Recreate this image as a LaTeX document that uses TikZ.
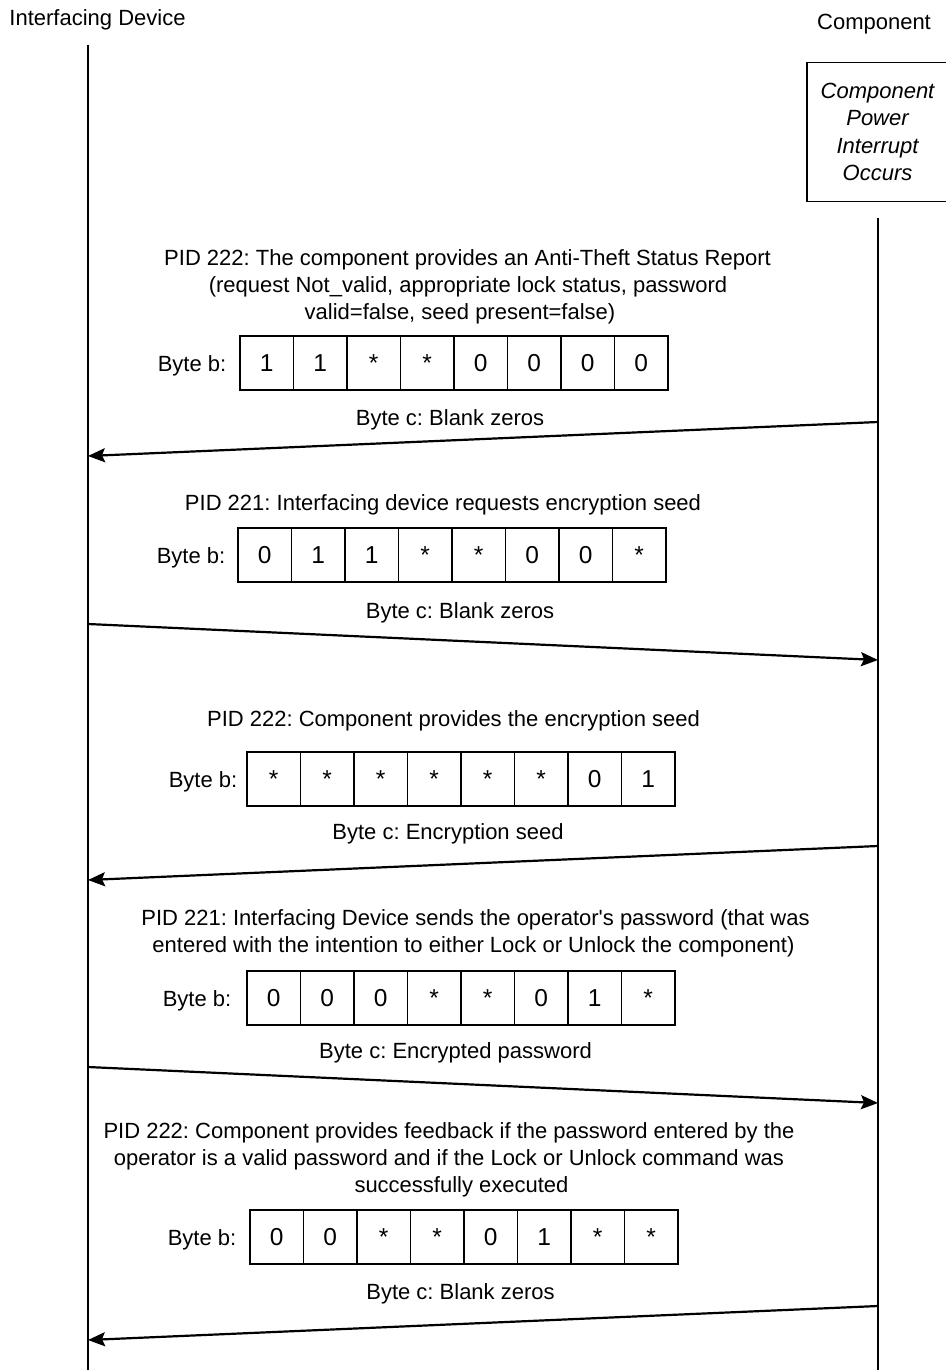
\documentclass[tikz,border=0pt]{standalone}
\usepackage{fontspec}
\setmainfont{Liberation Sans}
\usetikzlibrary{arrows.meta}
\frenchspacing

\tikzset{
  txt/.style={anchor=base, inner sep=0pt, font=\fontsize{22}{27}\selectfont},
  lbl/.style={anchor=base east, inner sep=0pt, font=\fontsize{22}{27}\selectfont},
  cell/.style={draw, line width=1.1pt, minimum width=53.5pt, minimum height=54pt,
               inner sep=0pt, text height=17.5pt, text depth=0pt,
               font=\fontsize{24.5}{27}\selectfont},
  lifeline/.style={line width=1.5pt},
  msg/.style={line width=2.2pt, -{Stealth[length=17pt, width=14pt, inset=3pt]}},
  event/.style={draw, line width=1.4pt, minimum width=141pt, minimum height=139pt,
                inner sep=0pt, align=center, font=\fontsize{22}{27.3}\selectfont\itshape},
}

% one byte as a row of eight cells; #1 row name, #2 left x, #3 centre y, #4 bits
\newcommand{\byterow}[4]{%
  \foreach \v [count=\i] in {#4}
    \node[cell] (#1c\i) at ({#2+26.75+53.5*(\i-1)}, #3) {\v};
}

\begin{document}
\begin{tikzpicture}[x=1pt, y=-1pt]
\useasboundingbox (0,0) rectangle (945,1370);

% participants
\node[txt] (hdev) at (97.5,26) {Interfacing Device};
\node[txt] (hcomp) at (874,30) {Component};
\node[event] (interrupt) at (877.5,132) {Component\\Power\\Interrupt\\Occurs};

% lifelines
\coordinate (devtop) at (88,45);
\coordinate (devbot) at (88,1370);
\coordinate (comptop) at (878,218);
\coordinate (compbot) at (878,1370);
\draw[lifeline] (devtop) -- (devbot);
\draw[lifeline] (comptop) -- (compbot);

% message 1
\node[txt] (m1a) at (467.5,265) {PID 222: The component provides an Anti-Theft Status Report};
\node[txt] (m1b) at (468,292) {(request Not\_valid, appropriate lock status, password};
\node[txt] (m1c) at (460,319) {valid=false, seed present=false)};
\byterow{r1}{240}{363}{1,1,*,*,0,0,0,0}
\node[lbl] (r1lbl) at ([xshift=-13pt]r1c1.base west) {Byte b:};
\node[txt] (m1d) at (450,425) {Byte c: Blank zeros};
\coordinate (a1s) at (878,422);
\coordinate (a1e) at (88,456);
\draw[msg] (a1s) -- (a1e);

% message 2
\node[txt] (m2a) at (443,510) {PID 221: Interfacing device requests encryption seed};
\byterow{r2}{238}{555}{0,1,1,*,*,0,0,*}
\node[lbl] (r2lbl) at ([xshift=-12pt]r2c1.base west) {Byte b:};
\node[txt] (m2d) at (460,618) {Byte c: Blank zeros};
\coordinate (a2s) at (88,624);
\coordinate (a2e) at (878,660);
\draw[msg] (a2s) -- (a2e);

% message 3
\node[txt] (m3a) at (453.5,726) {PID 222: Component provides the encryption seed};
\byterow{r3}{247}{779}{*,*,*,*,*,*,0,1}
\node[lbl] (r3lbl) at ([xshift=-9pt]r3c1.base west) {Byte b:};
\node[txt] (m3d) at (448,839) {Byte c: Encryption seed};
\coordinate (a3s) at (878,846);
\coordinate (a3e) at (88,880);
\draw[msg] (a3s) -- (a3e);

% message 4
\node[txt] (m4a) at (475.5,925) {PID 221: Interfacing Device sends the operator\textquotesingle s password (that was};
\node[txt] (m4b) at (473.5,952) {entered with the intention to either Lock or Unlock the component)};
\byterow{r4}{247}{998}{0,0,0,*,*,0,1,*}
\node[lbl] (r4lbl) at ([xshift=-15pt]r4c1.base west) {Byte b:};
\node[txt] (m4d) at (455.5,1058) {Byte c: Encrypted password};
\coordinate (a4s) at (88,1067);
\coordinate (a4e) at (878,1103);
\draw[msg] (a4s) -- (a4e);

% message 5
\node[txt] (m5a) at (449,1138) {PID 222: Component provides feedback if the password entered by the};
\node[txt] (m5b) at (449,1165) {operator is a valid password and if the Lock or Unlock command was};
\node[txt] (m5c) at (461.5,1192) {successfully executed};
\byterow{r5}{250}{1237}{0,0,*,*,0,1,*,*}
\node[lbl] (r5lbl) at ([xshift=-13pt]r5c1.base west) {Byte b:};
\node[txt] (m5d) at (460.5,1299) {Byte c: Blank zeros};
\coordinate (a5s) at (878,1306);
\coordinate (a5e) at (88,1340);
\draw[msg] (a5s) -- (a5e);
\end{tikzpicture}
\end{document}
